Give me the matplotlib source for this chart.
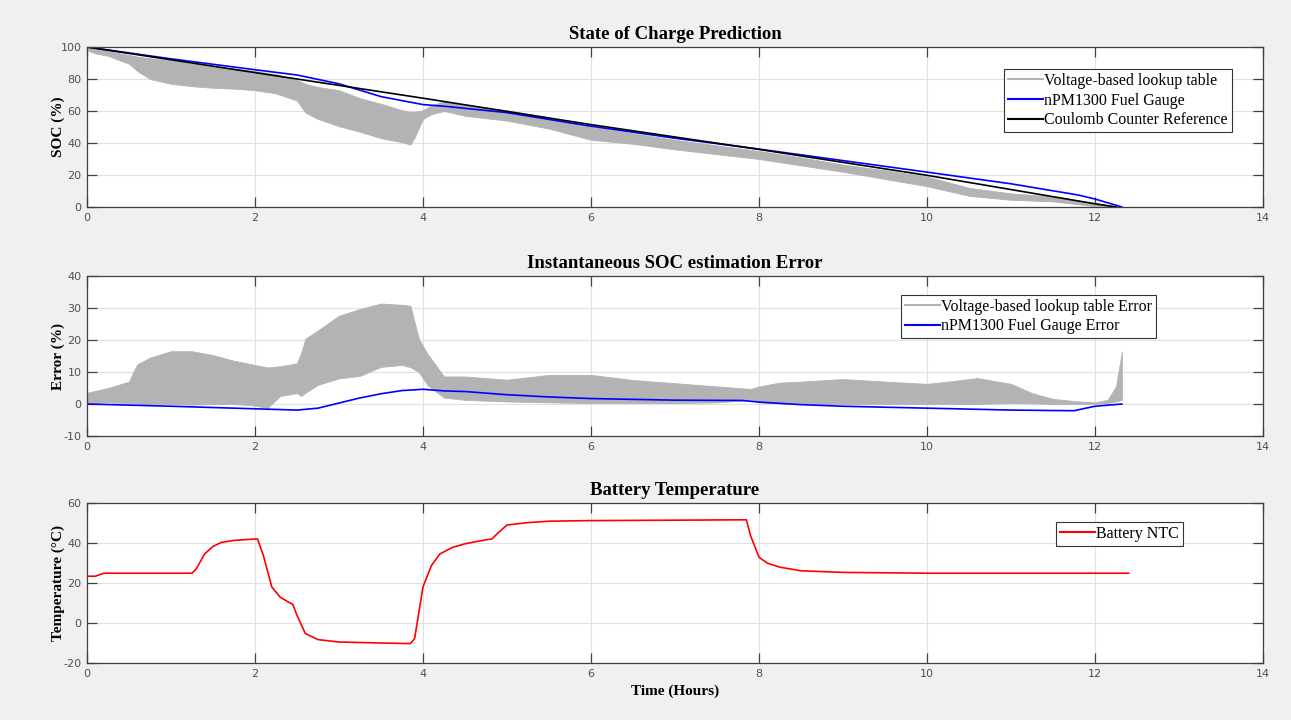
import numpy as np
import matplotlib
matplotlib.use("Agg")
import matplotlib.pyplot as plt
from matplotlib.lines import Line2D

# --- data ------------------------------------------------------------------
# panel 1: state of charge (%)
lut_t  = [0, 0.1, 0.25, 0.5, 0.6, 0.75, 1.0, 1.25, 1.5, 1.75, 2.0, 2.25, 2.5, 2.6,
          2.75, 3.0, 3.25, 3.5, 3.75, 3.85, 3.9, 4.0, 4.1, 4.25, 4.5, 5.0, 5.5,
          6.0, 6.5, 7.0, 7.5, 8.0, 8.5, 9.0, 9.5, 10.0, 10.5, 11.0, 11.5, 12.0, 12.3]
lut_hi = [100, 99, 97.5, 95, 94, 93, 91.5, 89.5, 88, 86.5, 85, 83, 79.5, 77,
          75, 73, 68, 64.5, 60.5, 59.5, 59.5, 60.5, 63.5, 66, 63.5, 60.5, 56,
          50, 46, 42, 38.5, 35, 31, 26.5, 23, 19, 12, 8.5, 6.5, 2.5, 0]
lut_lo = [98, 96, 94.5, 89.5, 85, 80, 77, 75.5, 74.5, 74, 73, 71, 66.5, 59,
          55, 50.5, 47, 43, 40.5, 39, 43.5, 55, 58, 60, 57, 54, 49,
          42, 39.5, 36, 33, 30, 26, 22, 17.5, 13, 7, 4.5, 3.5, 0.5, 0]

fg_t   = [0, 1, 2, 2.5, 3, 3.5, 4, 4.25, 5, 6, 7, 8, 9, 10, 11, 11.8, 12, 12.32]
fg_soc = [100, 92.6, 85.8, 82.5, 77, 69, 64, 63, 59, 50.5, 43, 36.2, 29, 21.8,
          14.5, 7.5, 5, 0]

cc_t   = [0, 2, 4, 6, 8, 10, 12, 12.25]
cc_soc = [100, 84, 68, 51.5, 36, 19.8, 2, 0]

# panel 2: estimation error (%)
err_t  = [0, 0.25, 0.5, 0.55, 0.6, 0.75, 1.0, 1.25, 1.5, 1.75, 2.0, 2.15, 2.3,
          2.5, 2.55, 2.6, 2.75, 3.0, 3.25, 3.5, 3.75, 3.85, 3.95, 4.05, 4.25,
          4.5, 5.0, 5.5, 6.0, 6.5, 7.0, 7.5, 7.9, 8.0, 8.25, 8.5, 9.0, 9.5,
          10.0, 10.25, 10.6, 11.0, 11.25, 11.5, 11.8, 12.0, 12.15, 12.25, 12.32]
err_hi = [3.5, 5, 7, 10, 12.4, 14.5, 16.5, 16.5, 15.3, 13.5, 12.2, 11.4, 11.8,
          12.7, 16, 20.4, 23, 27.6, 29.7, 31.4, 31, 30.7, 20.4, 15.8, 8.6,
          8.6, 7.6, 9.1, 9.1, 7.5, 6.5, 5.5, 4.7, 5.5, 6.7, 7, 7.8, 7,
          6.3, 7, 8.1, 6.3, 3.4, 1.6, 0.8, 0.5, 1.3, 5.5, 16.4]
err_lo = [0.3, 0.5, 0.3, 0.2, 0.1, 0, 0, -0.2, 0, 0, -0.5, -1.2, 2.5,
          3.4, 2.5, 3.5, 6, 8, 8.8, 11.6, 12.2, 11.5, 10, 6, 2,
          1.3, 0.8, 0.5, 0.3, 0.3, 0.3, 0.5, 1.3, 0.5, 0.2, 0, 0, 0,
          0, 0, 0, 0.3, 0.2, 0, 0, 0.1, 0.3, 0.8, 1.3]

fg_err_t = [0, 1, 2, 2.5, 2.75, 3, 3.25, 3.5, 3.75, 4, 4.25, 4.5, 5, 5.5, 6,
            7, 7.8, 8, 8.5, 9, 10, 11, 11.75, 12, 12.32]
fg_err   = [0, -0.7, -1.5, -1.9, -1.3, 0.3, 1.9, 3.2, 4.2, 4.6, 4.1, 3.9, 2.9,
            2.2, 1.7, 1.2, 1.1, 0.6, -0.2, -0.7, -1.3, -1.9, -2.1, -0.7, 0]

# panel 3: battery temperature (deg C)
temp_t = [0, 0.1, 0.2, 1.25, 1.3, 1.4, 1.5, 1.6, 1.75, 2.0, 2.03, 2.1, 2.2,
          2.3, 2.4, 2.45, 2.5, 2.6, 2.75, 3.0, 3.5, 3.85, 3.9, 4.0, 4.1, 4.2,
          4.35, 4.5, 4.75, 4.82, 4.9, 5.0, 5.25, 5.5, 6.0, 7.85, 7.9, 8.0,
          8.1, 8.25, 8.5, 9.0, 10.0, 12.4]
temp_c = [23.4, 23.4, 24.9, 24.9, 27, 34.5, 38.3, 40.3, 41.3, 42, 42, 33.7, 18,
          12.9, 10.4, 9.3, 3.8, -5.3, -8.3, -9.5, -10, -10.3, -7.8, 18, 28.7, 34.5,
          37.8, 39.6, 41.6, 42, 45.3, 49, 50.2, 50.9, 51.2, 51.6, 43.6, 32.9,
          29.9, 27.9, 26.1, 25.3, 24.9, 24.9]

x_ticks = np.arange(0, 15, 2)

# --- styling (MATLAB look) --------------------------------------------------
plt.rcParams["axes.unicode_minus"] = False
SERIF = "Liberation Serif"
GREY = "#b3b3b3"
BG = "#f0f0f0"

fig = plt.figure(figsize=(12.91, 7.2), dpi=100, facecolor=BG)
left, width = 87 / 1291, (1263 - 87) / 1291
tops = [47, 276, 503]
height_px = 160


def make_axes(top_px):
    bottom = 1 - (top_px + height_px) / 720
    ax = fig.add_axes([left, bottom, width, height_px / 720])
    ax.set_facecolor("white")
    ax.set_xlim(0, 14)
    ax.set_xticks(x_ticks)
    ax.grid(True, color="#e0e0e0", lw=0.8)
    ax.set_axisbelow(True)
    ax.tick_params(direction="in", top=True, right=True, length=7,
                   width=0.9, color="#404040", labelsize=8,
                   labelcolor="#505050", pad=4)
    for s in ax.spines.values():
        s.set_color("#404040")
        s.set_linewidth(0.9)
    return ax


def legend(ax, handles, labels, x, y):
    lg = ax.legend(handles, labels, loc="upper left", bbox_to_anchor=(x, y),
                   prop={"family": SERIF, "size": 11.5}, fancybox=False,
                   framealpha=1, edgecolor="#333333", handlelength=2.2,
                   handletextpad=0.05, borderpad=0.25, labelspacing=0.22,
                   borderaxespad=0)
    lg.get_frame().set_linewidth(0.8)


title_kw = dict(family=SERIF, fontsize=13.5, fontweight="bold", pad=6)
label_kw = dict(family=SERIF, fontsize=11, fontweight="bold")

# panel 1
ax1 = make_axes(tops[0])
ax1.fill_between(lut_t, lut_lo, lut_hi, color=GREY, lw=0.6, edgecolor=GREY)
ax1.plot(fg_t, fg_soc, color="blue", lw=1.2)
ax1.plot(cc_t, cc_soc, color="black", lw=1.2)
ax1.set_ylim(0, 100)
ax1.set_yticks(np.arange(0, 101, 20))
ax1.set_title("State of Charge Prediction", **title_kw)
ax1.set_ylabel("SOC (%)", **label_kw)
legend(ax1,
       [Line2D([], [], color=GREY, lw=1.5), Line2D([], [], color="blue", lw=1.5),
        Line2D([], [], color="black", lw=1.5)],
       ["Voltage-based lookup table", "nPM1300 Fuel Gauge",
        "Coulomb Counter Reference"], 0.78, 0.862)

# panel 2
ax2 = make_axes(tops[1])
ax2.fill_between(err_t, err_lo, err_hi, color=GREY, lw=0.6, edgecolor=GREY)
ax2.plot(fg_err_t, fg_err, color="blue", lw=1.2)
ax2.set_ylim(-10, 40)
ax2.set_yticks(np.arange(-10, 41, 10))
ax2.set_title("Instantaneous SOC estimation Error", **title_kw)
ax2.set_ylabel("Error (%)", **label_kw)
legend(ax2,
       [Line2D([], [], color=GREY, lw=1.5), Line2D([], [], color="blue", lw=1.5)],
       ["Voltage-based lookup table Error", "nPM1300 Fuel Gauge Error"],
       0.692, 0.882)

# panel 3
ax3 = make_axes(tops[2])
ax3.plot(temp_t, temp_c, color="red", lw=1.2)
ax3.set_ylim(-20, 60)
ax3.set_yticks(np.arange(-20, 61, 20))
ax3.set_title("Battery Temperature", **title_kw)
ax3.set_ylabel("Temperature (\u00b0C)", **label_kw)
ax3.set_xlabel("Time (Hours)", **label_kw)
legend(ax3, [Line2D([], [], color="red", lw=1.5)], ["Battery NTC"], 0.824, 0.882)

for ax in (ax1, ax2, ax3):
    ax.yaxis.set_label_coords(-0.019, 0.5)

fig.savefig("out.png", dpi=100, facecolor=BG)
